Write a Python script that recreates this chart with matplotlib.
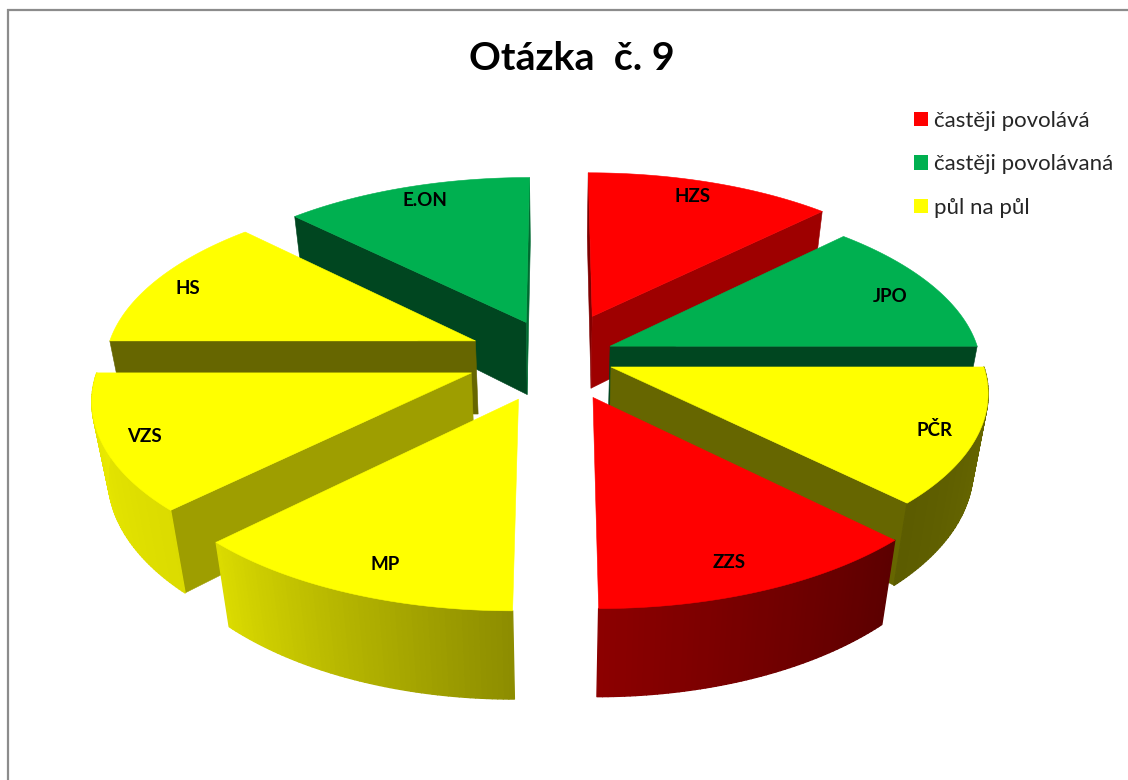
import numpy as np
import matplotlib
matplotlib.use("Agg")
import matplotlib.pyplot as plt
from matplotlib.patches import Patch
from matplotlib.collections import PolyCollection

# --- data ---
labels = ["HZS", "JPO", "PČR", "ZZS", "MP", "VZS", "HS", "E.ON"]
values = [1, 1, 1, 1, 1, 1, 1, 1]
groups = [0, 1, 2, 0, 2, 2, 2, 1]
group_names = ["častěji povolává", "častěji povolávaná", "půl na půl"]

# --- style ---
plt.rcParams["font.family"] = ["Lato", "Open Sans", "DejaVu Sans"]
group_colors = np.array([[255, 0, 0], [0, 176, 80], [255, 255, 0]]) / 255
explode = [0.26, 0.158, 0.158, 0.25, 0.26, 0.246, 0.24, 0.22]
label_xy = [(692, 197), (890, 296), (935, 430), (729, 562),
            (385, 565), (144, 436), (188, 288), (425, 201)]
CX, CY = 556, 356
R, B, H = 370, 172, 74
K, M = 0.13, 0.035


def project(x, y, z=0.0):
    w = 1 + K * np.asarray(y)
    return np.column_stack([CX + R * np.asarray(x) / (w + M * z),
                            CY + (H * z - B * np.asarray(y)) / w])


def arc_shade(theta):
    return np.interp(theta, [90, 135, 180, 225, 270], [0.42, 0.36, 0.55, 0.86, 0.92])


def radial_shade(normal):
    return np.interp(normal % 360, [45, 135, 180, 225, 315], [0.6, 0.62, 0.4, 0.4, 0.6])


fig = plt.figure(figsize=(11.28, 7.8), dpi=100)
ax = fig.add_axes([0, 0, 1, 1])
ax.set_xlim(0, 1128)
ax.set_ylim(780, 0)
ax.axis("off")

ax.plot([8, 8], [780, 9], color="#8c8c8c", lw=1.6, solid_capstyle="butt")
ax.plot([7, 1128], [9.5, 9.5], color="#8c8c8c", lw=1.6, solid_capstyle="butt")

edges = np.cumsum([0] + values) / sum(values) * 360
order = sorted(range(len(values)),
               key=lambda i: -np.cos(np.radians((edges[i] + edges[i + 1]) / 2)))


def face(poly, color, lw=0.4):
    ax.add_collection(PolyCollection([poly], facecolors=[color], edgecolors=[color], linewidths=lw))


def cross(u, v):
    return u[0] * v[1] - u[1] * v[0]


for i in order:
    t0, t1 = edges[i], edges[i + 1]
    mid = np.radians((t0 + t1) / 2)
    ex, ey = explode[i] * np.sin(mid), explode[i] * np.cos(mid)
    base = group_colors[groups[i]]
    th = np.radians(np.linspace(t0, t1, 61))
    ox, oy = np.sin(th) + ex, np.cos(th) + ey
    top = project(ox, oy, 0)
    bot = project(ox, oy, 1)
    apex = project([ex], [ey], 0)[0]

    # radial walls: visible when the top face lies on the far side of the edge
    for t, end, other, side in [(t0, 0, -1, -1), (t1, -1, 0, 1)]:
        edge = top[end] - apex
        if t != 180 and cross(edge, top[other] - apex) * cross(edge, (0, 1)) < 0:
            low = project([ex, ox[end]], [ey, oy[end]], 1)
            poly = np.vstack([apex, top[end], low[1], low[0]])
            face(poly, base * radial_shade(t + side * 90))

    # outer curved wall, shaded quad by quad
    for j in range(len(th) - 1):
        tm = np.degrees(th[j] + th[j + 1]) / 2
        if 90 <= tm <= 270:
            face(np.array([top[j], top[j + 1], bot[j + 1], bot[j]]), base * arc_shade(tm), lw=1.0)

    # top face
    face(np.vstack([apex, top]), base)

for name, (x, y) in zip(labels, label_xy):
    ax.text(x, y, name, ha="center", va="center", fontsize=13.5, fontweight="bold", color="black")

ax.text(572, 58.5, "Otázka  č. 9", ha="center", va="center", fontsize=28.4, fontweight="bold", color="black")

handles = [Patch(facecolor=c, edgecolor="none") for c in group_colors]
ax.legend(handles, group_names, loc="upper left", bbox_to_anchor=(914 / 1128, 1 - 111 / 780),
          frameon=False, fontsize=16, labelcolor="#262626", handlelength=0.63, handleheight=0.63,
          handletextpad=0.27, labelspacing=1.05, borderpad=0, borderaxespad=0)

fig.savefig("out.png", dpi=100, facecolor="white")
